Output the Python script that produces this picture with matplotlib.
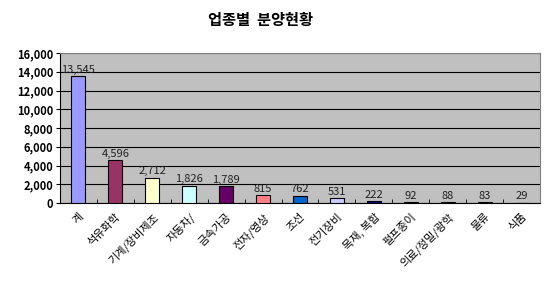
import matplotlib
matplotlib.use("Agg")
import matplotlib.pyplot as plt
import numpy as np

plt.rcParams['font.family'] = ['Noto Sans CJK KR', 'DejaVu Sans']

categories = ["계", "석유화학", "기계/장비제조", "자동차/", "금속가공", "전자/영상", "조선",
              "전기장비", "목재, 복합", "펄프종이", "의료/정밀/광학", "물류", "식품"]
values = [13545, 4596, 2712, 1826, 1789, 815, 762, 531, 222, 92, 88, 83, 29]
colors = ["#9999FF", "#993366", "#FFFFCC", "#CCFFFF", "#660066", "#FF8080", "#0066CC",
          "#CCCCFF", "#000080", "#FF00FF", "#FFFF00", "#00FFFF", "#800080"]
yticks = [0, 2000, 4000, 6000, 8000, 10000, 12000, 14000, 16000]
title = "업종별 분양현황"

fig = plt.figure(figsize=(5.5, 2.85), dpi=100)
ax = fig.add_axes([60/550, 1-203/285, 480/550, 150/285])
ax.set_facecolor("#C0C0C0")
x = np.arange(len(categories))
ax.bar(x, values, width=0.38, color=colors, edgecolor="black", linewidth=0.8, zorder=3)
for xi, v in zip(x, values):
    ax.text(xi, v + 150, f"{v:,}", ha="center", va="bottom", fontsize=8, color="#222222", zorder=4)
ax.set_xlim(-0.5, len(categories) - 0.5)
ax.set_ylim(0, 16000)
ax.set_yticks(yticks)
ax.set_yticklabels([f"{t:,}" for t in yticks], fontsize=8, fontweight="bold")
ax.yaxis.grid(True, color="black", linewidth=0.8, zorder=1)
ax.set_axisbelow(True)
ax.set_xticks(x)
ax.set_xticklabels(categories, rotation=45, ha="right", va="top", rotation_mode="anchor",
                   fontsize=8, fontweight="medium")
ax.tick_params(axis="x", length=0, pad=6)
ax.set_xticks(np.arange(-0.5, len(categories), 1), minor=True)
ax.tick_params(axis="x", which="minor", length=3, direction="in", color="black")
ax.tick_params(axis="y", length=3, direction="out", pad=2)
for s in ["left", "bottom"]:
    ax.spines[s].set_color("black")
for s in ["top", "right"]:
    ax.spines[s].set_color("#808080")
fig.text(260/550, 1 - 20/285, "  ".join(title.split(" ")), ha="center", va="center",
         fontsize=11, fontweight="bold")
fig.savefig("out.png", dpi=100)
